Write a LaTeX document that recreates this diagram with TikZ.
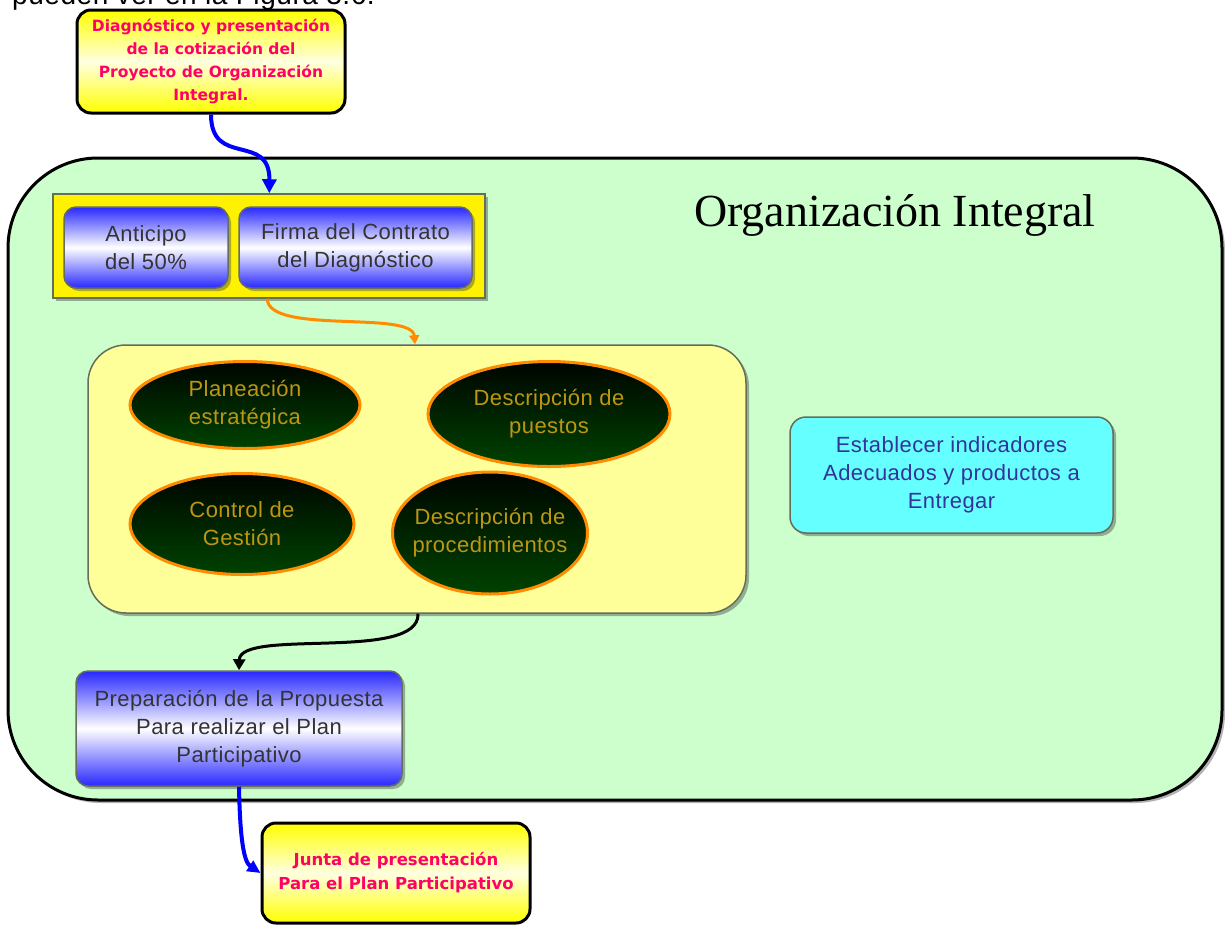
\documentclass[tikz,border=0pt]{standalone}
\usepackage{fontspec}
\setmainfont{Liberation Sans}[LetterSpace=2]
\newfontfamily\titlefont{Liberation Serif}
\newfontfamily\comicfont{DejaVu Sans}
\usetikzlibrary{shapes.geometric,arrows.meta,shadows}
\definecolor{orggreen}{RGB}{204,255,204}
\definecolor{lightyel}{RGB}{255,255,153}
\definecolor{pinkred}{RGB}{255,0,102}
\definecolor{boxblue}{RGB}{40,40,255}
\definecolor{gold}{RGB}{190,150,20}
\definecolor{dgreen}{RGB}{0,45,0}
\definecolor{cyanbox}{RGB}{102,255,255}
\definecolor{navytext}{RGB}{51,51,153}
\definecolor{edgegray}{RGB}{100,110,90}
\definecolor{arroworange}{RGB}{255,140,0}
\definecolor{arrowblue}{RGB}{0,0,255}
\tikzset{
  shade/.style={drop shadow={shadow xshift=3pt,shadow yshift=-3pt,opacity=0.45,fill=black!70}},
  notebox/.style={draw=black,line width=3pt,rounded corners=14pt,top color=yellow,bottom color=yellow,middle color=yellow!12,
    text=pinkred,font=\comicfont\bfseries\fontsize{15.5}{23}\selectfont,align=center,inner sep=0pt},
  bluebox/.style={draw=edgegray,line width=1.5pt,rounded corners=12pt,top color=boxblue,bottom color=boxblue,middle color=white,
    text=black!80,font=\fontsize{22}{28}\selectfont,align=center,inner sep=0pt,shade},
  oval/.style={ellipse,draw=arroworange,line width=3pt,top color=black!90!dgreen,bottom color=dgreen!90!green,
    text=gold,font=\fontsize{22}{28}\selectfont,align=center,inner sep=-20pt},
}
\begin{document}
\begin{tikzpicture}[x=1pt,y=-1pt]
\useasboundingbox (0,0) rectangle (1225,924);
% partially visible caption at the very top
\node[anchor=base west,font=\fontsize{28}{30}\selectfont,inner sep=0pt] (cap) at (12,4) {pueden ver en la Figura 3.6.};
% main container
\node[draw=black,line width=3pt,rounded corners=90pt,fill=orggreen,minimum width=1214pt,minimum height=642pt,
  drop shadow={shadow xshift=3pt,shadow yshift=-3pt,opacity=0.5,fill=black!60}] (org) at (615,479) {};
\node[font=\titlefont\fontsize{46}{50}\selectfont] (title) at (895,215) {Organización Integral};
% top note
\node[notebox,minimum width=268pt,minimum height=103pt] (top) at (211,61.5)
  {Diagnóstico y presentación\\de la cotización del\\Proyecto de Organización\\Integral.};
% yellow bar with two boxes
\node[draw=edgegray,line width=1.5pt,fill=yellow,minimum width=432pt,minimum height=104pt,shade] (ybar) at (269,246) {};
\node[bluebox,minimum width=164pt,minimum height=81pt] (ant) at (146,247.5) {Anticipo\\del 50\%};
\node[bluebox,minimum width=233pt,minimum height=81pt] (firma) at (355.5,247.5) {Firma del Contrato\\del Diagnóstico};
% inner yellow box
\node[draw=edgegray,line width=1.5pt,fill=lightyel,rounded corners=38pt,minimum width=658pt,minimum height=268pt,shade] (inner) at (417,479) {};
\node[oval,minimum width=230pt,minimum height=87pt] (e1) at (245,405) {Planeación\\estratégica};
\node[oval,minimum width=242pt,minimum height=105pt] (e2) at (549,414) {Descripción de\\puestos};
\node[oval,minimum width=224pt,minimum height=101pt] (e3) at (242,524) {Control de\\Gestión};
\node[oval,minimum width=195pt,minimum height=122pt] (e4) at (490,533) {Descripción de\\procedimientos};
% cyan box
\node[draw=edgegray,line width=1.5pt,fill=cyanbox,rounded corners=16pt,minimum width=323pt,minimum height=116pt,
  text=navytext,font=\fontsize{22}{28}\selectfont,align=center,inner sep=0pt,shade] (cyan) at (951.5,475)
  {Establecer indicadores\\Adecuados y productos a\\Entregar};
% preparation box
\node[bluebox,minimum width=326pt,minimum height=115pt] (prep) at (239,728.5)
  {Preparación de la Propuesta\\Para realizar el Plan\\Participativo};
% bottom note
\node[notebox,font=\comicfont\bfseries\fontsize{16.5}{24}\selectfont,minimum width=268pt,minimum height=100pt] (bot) at (396,873)
  {Junta de presentación\\Para el Plan Participativo};
% connectors
\draw[arrowblue,line width=4pt,-{Triangle[length=14pt,width=14pt]}]
  (top.south) .. controls (211,168) and (270,132) .. ([xshift=217pt]ybar.north west);
\draw[arroworange,line width=3pt,-{Triangle[length=9pt,width=10pt]}]
  ([xshift=215pt]ybar.south west) .. controls (268,335) and (412,310) .. ([xshift=-2pt]inner.north);
\draw[black,line width=3pt,-{Triangle[length=11pt,width=12pt]}]
  ([xshift=1pt]inner.south) .. controls (420,662) and (240,628) .. (prep.north);
\draw[arrowblue,line width=4pt,-{Triangle[length=13pt,width=12pt]}]
  (prep.south) .. controls (240,840) and (244,862) .. (bot.west);
\end{tikzpicture}
\end{document}
